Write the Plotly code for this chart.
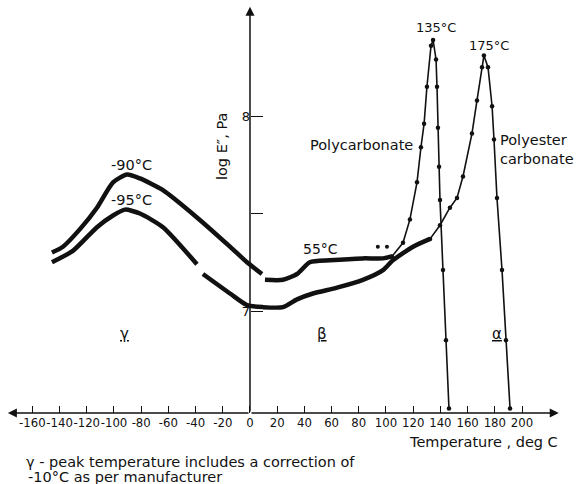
import plotly.graph_objects as go

# Polycarbonate (upper curve at low T, sharp peak at 135 C)
pc_temp = [-145.6, -137.5, -125, -112.5, -100.7, -90.4, -80.9, -64, -39, -14.7, -2.2, 8.8, 10,
           11, 24.3, 34.6, 44, 58.8, 83, 97.8, 104.4, 112.5, 117.6, 122.8, 125.7, 128, 130.1,
           133.1, 134.6, 136.8, 137.5, 138.2, 139, 139.7, 141.9, 144.1, 146.3]
pc_logE = [7.30, 7.33, 7.42, 7.53, 7.66, 7.70, 7.68, 7.62, 7.48, 7.33, 7.25, 7.19, None,
           7.16, 7.16, 7.19, 7.25, 7.26, 7.27, 7.27, 7.28, 7.35, 7.47, 7.66, 7.84, 7.96, 8.15,
           8.36, 8.39, 8.29, 8.15, 7.94, 7.74, 7.57, 7.21, 6.85, 6.50]

# Polyester carbonate (lower curve at low T, peak at 175 C)
pe_temp = [-145.6, -130, -112.5, -100.7, -91.9, -80.9, -64, -39, -37,
           -34.6, -14.7, -2.2, 9.6, 24.3, 34.6, 46.3, 64, 83, 97.8, 105, 119.9, 132.4,
           139.7, 147, 152.2, 156.6, 163.2, 166.9, 170.6, 172, 175, 178, 179.4, 181.6,
           185.3, 188.2, 191.2]
pe_logE = [7.25, 7.31, 7.43, 7.49, 7.52, 7.50, 7.43, 7.24, None,
           7.19, 7.09, 7.03, 7.02, 7.02, 7.06, 7.09, 7.12, 7.16, 7.21, 7.26, 7.33, 7.37,
           7.44, 7.53, 7.58, 7.69, 7.91, 8.08, 8.25, 8.31, 8.25, 8.05, 7.88, 7.58,
           7.21, 6.85, 6.50]

stray_temp = [94, 100.7]
stray_logE = [7.33, 7.33]

x_ticks = list(range(-160, 201, 20))
x_ticktext = [str(v) for v in x_ticks]
y_ticks = [7, 7.5, 8]
y_ticktext = ["7", "", "8"]

FONT = "DejaVu Sans, sans-serif"
TICKFONT = "DejaVu Sans Condensed, DejaVu Sans, sans-serif"
BLACK = "#111111"
AXIS_Y = 6.477


def split(xs, ys, thr):
    lo_x = [x for x in xs if x <= thr]
    lo_y = ys[:len(lo_x)]
    hi_x = xs[len(lo_x) - 1:]
    hi_y = ys[len(lo_x) - 1:]
    return lo_x, lo_y, hi_x, hi_y


fig = go.Figure()
for xs, ys, thr in [(pc_temp, pc_logE, 104.4), (pe_temp, pe_logE, 132.4)]:
    lx, ly, hx, hy = split(xs, ys, thr)
    fig.add_trace(go.Scatter(x=lx, y=ly, mode="lines", connectgaps=False,
                             line=dict(color=BLACK, width=4.5, shape="spline", smoothing=0.6),
                             showlegend=False, hoverinfo="skip"))
    fig.add_trace(go.Scatter(x=hx, y=hy, mode="lines+markers",
                             line=dict(color=BLACK, width=1.6),
                             marker=dict(color=BLACK, size=4.5),
                             showlegend=False, hoverinfo="skip"))
fig.add_trace(go.Scatter(x=stray_temp, y=stray_logE, mode="markers",
                         marker=dict(color=BLACK, size=4), showlegend=False, hoverinfo="skip"))

ann = []
arrow = dict(text="", showarrow=True, axref="x", ayref="y", arrowhead=2, arrowsize=1.2,
             arrowwidth=1.5, arrowcolor=BLACK)
ann.append(dict(arrow, x=0, y=8.56, ax=0, ay=AXIS_Y))
ann.append(dict(arrow, x=227, y=AXIS_Y, ax=0, ay=AXIS_Y))
ann.append(dict(arrow, x=-178, y=AXIS_Y, ax=0, ay=AXIS_Y))

def txt(x, y, s, size=14.5, xanchor="center", angle=0, align="center"):
    ann.append(dict(x=x, y=y, text=s, showarrow=False, xanchor=xanchor, yanchor="middle",
                    textangle=angle, align=align, font=dict(family=FONT, size=size, color=BLACK)))

def ptxt(px, py, s, size=14.5, xanchor="left"):
    ann.append(dict(xref="paper", yref="paper", x=px / 576, y=1 - py / 484, xanchor=xanchor,
                    yanchor="middle", showarrow=False, text=s,
                    font=dict(family=FONT, size=size, color=BLACK)))

txt(137, 8.455, "135°C", 13)
txt(176, 8.36, "175°C", 13)
txt(-87, 7.75, "-90°C", 14.5)
txt(-87, 7.57, "-95°C", 14.5)
txt(51.8, 7.32, "55°C", 14)
txt(121.3, 7.85, "Polycarbonate", 14.5, xanchor="right")
txt(182.4, 7.826, "Polyester<br>carbonate", 14.5, xanchor="left", align="left")
txt(-92, 6.88, "<u>γ</u>", 15)
txt(53, 6.88, "<u>β</u>", 15)
txt(181.6, 6.88, "<u>α</u>", 15)
txt(-20.6, 7.846, "log E\u2033, Pa", 14.5, angle=-90)
ptxt(560, 442, "Temperature , deg C", 14.5, xanchor="right")
ptxt(24, 462, "γ - peak temperature includes a correction of", 14.5)
ptxt(26, 477, "-10°C as per manufacturer", 14.5)

fig.update_layout(
    width=576, height=484, margin=dict(l=0, r=0, t=0, b=0),
    paper_bgcolor="white", plot_bgcolor="white",
    annotations=ann,
    xaxis=dict(range=[-183.8, 239.7], anchor="free", position=1 - 413 / 484,
               showgrid=False, zeroline=False, showline=False,
               ticks="inside", ticklen=7, tickwidth=1.3, tickcolor=BLACK,
               tickvals=x_ticks, ticktext=x_ticktext, tickangle=0,
               tickfont=dict(family=TICKFONT, size=13, color=BLACK)),
    yaxis=dict(range=[6.113, 8.595], anchor="free", position=250 / 576,
               showgrid=False, zeroline=False, showline=False,
               ticks="inside", ticklen=12, tickwidth=1.3, tickcolor=BLACK,
               tickvals=y_ticks, ticktext=y_ticktext,
               tickfont=dict(family=FONT, size=13, color=BLACK)),
)
fig.write_html("out.html", config={"displayModeBar": False},
               post_script="document.body.style.margin='0';document.body.style.overflow='hidden';")
